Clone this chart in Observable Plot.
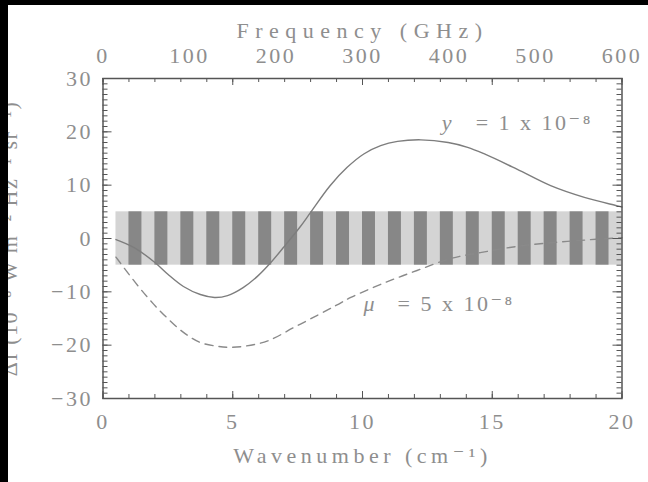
<!DOCTYPE html>
<html>
<head>
<meta charset="utf-8">
<script src="https://cdn.jsdelivr.net/npm/d3@7"></script>
<script src="https://cdn.jsdelivr.net/npm/@observablehq/plot@0.6"></script>
<style>
  html, body { margin: 0; padding: 0; background: #fff; }
  #wrap { position: relative; width: 648px; height: 482px; background: #fff; overflow: hidden; }
  .blk { position: absolute; background: #000; }
</style>
</head>
<body>
<div id="wrap"></div>
<script>
// ---- data ----
const ySolidX = [0.5, 1.2, 2.0, 2.5, 3.1, 3.75, 4.3, 4.8, 5.4, 5.95, 6.45, 6.95, 7.6, 8.0, 8.75, 9.4, 10.05, 10.7, 11.35, 12.25, 13.3, 14.05, 14.7, 15.95, 17.25, 18.55, 19.8, 20];
const ySolidV = [-0.2, -1.7, -4.5, -6.7, -9.0, -10.5, -11.05, -10.7, -9.2, -7.1, -4.6, -1.7, 2.2, 4.9, 9.9, 13.3, 15.85, 17.4, 18.2, 18.5, 18.0, 17.1, 15.85, 13.0, 9.9, 7.7, 6.15, 5.9];
const muDashX = [0.5, 0.95, 1.45, 1.95, 2.45, 3.1, 3.75, 4.4, 4.8, 5.45, 6.35, 7.35, 8.3, 9.0, 9.55, 10.8, 12.1, 13.4, 14.7, 16.0, 17.25, 18.55, 19.8, 20];
const muDashV = [-3.5, -6.4, -9.5, -12.3, -14.8, -17.6, -19.5, -20.2, -20.4, -20.2, -19.2, -16.7, -14.3, -12.5, -11.05, -8.4, -6.0, -3.75, -2.5, -1.45, -0.8, -0.3, 0.1, 0.15];

// sensitivity band (light) and dark stripes
const bandX = [0.5, 20];
const bandY = [-5, 5];
const stripeStarts = [1,2,3,4,5,6,7,8,9,10,11,12,13,14,15,16,17,18,19];
const stripeWidth = 0.5;

// tick labels
const xTickLabels = [0, 5, 10, 15, 20];
const freqTickLabels = [0, 100, 200, 300, 400, 500, 600];
const yTickLabels = [-30, -20, -10, 0, 10, 20, 30];
const GHzPerWavenumber = 30;

// annotations
const annSymbol = ["y", "\u03bc"];
const annRest = ["= 1 x 10\u207b\u2078", "= 5 x 10\u207b\u2078"];
const annX = [13.05, 10.04];
const annY = [21.6, -12.3];

const xTitle = "Wavenumber (cm\u207b\u00b9)";
const topTitle = "Frequency (GHz)";
const yTitle = "\u0394I (10\u207b\u2078 W m\u207b\u00b2 Hz\u207b\u00b9 sr\u207b\u00b9)";

// ---- build ----
const solid = ySolidX.map((x, i) => ({x, v: ySolidV[i]}));
const dashed = muDashX.map((x, i) => ({x, v: muDashV[i]}));
const stripes = stripeStarts.map(s => ({x1: s, x2: s + stripeWidth}));
const anns = annSymbol.map((s, i) => ({s, r: annRest[i], x: annX[i], y: annY[i]}));

const xMinor = d3.range(0, 21, 1);
const yMinor = d3.range(-30, 31, 1);
const yMajor = yTickLabels;
const xMajor = xTickLabels;

const FW = 648 - 102.5 - 26.5; // frame width
const FH = 482 - 78 - 84;      // frame height
const tickColor = "#555";
const txt = "#8e8e8e";

const chart = Plot.plot({
  width: 648,
  height: 482,
  marginLeft: 102.5,
  marginRight: 26.5,
  marginTop: 78,
  marginBottom: 84,
  x: {domain: [0, 20]},
  y: {domain: [-30, 30]},
  style: {
    fontFamily: "'Liberation Serif', 'DejaVu Serif', serif",
    fontSize: "22px",
    letterSpacing: "2.5px",
    color: txt,
    background: "#fff",
    overflow: "visible"
  },
  marks: [
    Plot.rectY([{x1: bandX[0], x2: bandX[1], y1: bandY[0], y2: bandY[1]}], {x1: "x1", x2: "x2", y1: "y1", y2: "y2", fill: "#d4d4d4"}),
    Plot.rectY(stripes, {x1: "x1", x2: "x2", y1: bandY[0], y2: bandY[1], fill: "#878787"}),
    Plot.line(solid, {x: "x", y: "v", curve: "catmull-rom", stroke: "#7d7d7d", strokeWidth: 1.4}),
    Plot.line(dashed, {x: "x", y: "v", curve: "catmull-rom", stroke: "#8a8a8a", strokeWidth: 1.4, strokeDasharray: "8,6"}),
    // ticks (inward)
    Plot.tickX(xMinor, {x: d => d, insetTop: FH - 4, stroke: tickColor}),
    Plot.tickX(xMajor, {x: d => d, insetTop: FH - 7, stroke: tickColor}),
    Plot.tickX(xMinor, {x: d => d, insetBottom: FH - 4, stroke: tickColor}),
    Plot.tickX(xMajor, {x: d => d, insetBottom: FH - 7, stroke: tickColor}),
    Plot.tickY(yMinor, {y: d => d, insetRight: FW - 5, stroke: tickColor}),
    Plot.tickY(yMajor, {y: d => d, insetRight: FW - 9, stroke: tickColor}),
    Plot.tickY(yMinor, {y: d => d, insetLeft: FW - 5, stroke: tickColor}),
    Plot.tickY(yMajor, {y: d => d, insetLeft: FW - 9, stroke: tickColor}),
    Plot.frame({stroke: "#555", strokeWidth: 1.5}),
    // axes labels
    Plot.axisX(xTickLabels, {anchor: "bottom", tickSize: 0, tickPadding: 15, label: null, fill: txt}),
    Plot.axisX(freqTickLabels.map(f => f / GHzPerWavenumber), {anchor: "top", tickSize: 0, tickPadding: 16, label: null, fill: txt, tickFormat: d => String(Math.round(d * GHzPerWavenumber))}),
    Plot.axisY(yTickLabels, {anchor: "left", tickSize: 0, tickPadding: 10, label: null, fill: txt}),
    Plot.text([xTitle], {frameAnchor: "bottom", lineAnchor: "middle", text: d => d, dy: 57, fill: txt}),
    Plot.text([topTitle], {frameAnchor: "top", lineAnchor: "middle", text: d => d, dy: -48, fill: txt}),
    Plot.text([yTitle], {frameAnchor: "left", textAnchor: "middle", lineAnchor: "middle", text: d => d, rotate: -90, dx: -93, fill: txt}),
    // annotations
    Plot.text(anns, {x: "x", y: "y", text: "s", textAnchor: "start", fontStyle: "italic", fill: txt}),
    Plot.text(anns, {x: "x", y: "y", text: "r", textAnchor: "start", dx: 34, fill: txt})
  ]
});

// per-title letter spacing (reference uses a wide vector font)
const spacing = new Map([[topTitle, "6.5px"], [xTitle, "4.5px"], [yTitle, "1.5px"]]);
d3.select(chart).selectAll("text").each(function () {
  const s = spacing.get(this.textContent);
  if (s) this.style.letterSpacing = s;
});

const wrap = document.getElementById("wrap");
wrap.appendChild(chart);
chart.style.position = "absolute";
chart.style.left = "0px";
chart.style.top = "0px";
const b1 = document.createElement("div"); b1.className = "blk";
Object.assign(b1.style, {left: "0px", top: "0px", width: "8px", height: "482px"});
const b2 = document.createElement("div"); b2.className = "blk";
Object.assign(b2.style, {left: "0px", top: "0px", width: "648px", height: "5px"});
wrap.appendChild(b1); wrap.appendChild(b2);
</script>
</body>
</html>
